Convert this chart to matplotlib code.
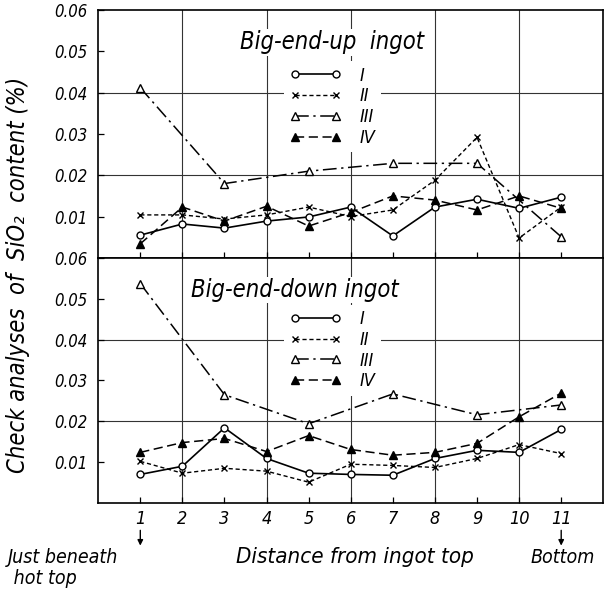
import matplotlib
matplotlib.use("Agg")
import matplotlib.pyplot as plt

# positions along ingot (distance from top)
pos = [1, 2, 3, 4, 5, 6, 7, 8, 9, 10, 11]
pos_odd = [1, 3, 5, 7, 9, 11]

# Big-end-up ingot, SiO2 (%)
up_I = [0.0055, 0.0082, 0.0072, 0.0089, 0.0099, 0.0123, 0.0053, 0.0123, 0.0142, 0.0120, 0.0147]
up_II = [0.0104, 0.0104, 0.0094, 0.0104, 0.0123, 0.0100, 0.0116, 0.0188, 0.0292, 0.0048, 0.0123]
up_III = [0.0412, 0.0180, 0.0210, 0.0229, 0.0229, 0.0051]
up_IV = [0.0034, 0.0123, 0.0089, 0.0125, 0.0077, 0.0110, 0.0150, 0.0140, 0.0116, 0.0150, 0.0120]

# Big-end-down ingot, SiO2 (%)
down_I = [0.0070, 0.0090, 0.0184, 0.0109, 0.0073, 0.0070, 0.0068, 0.0109, 0.0129, 0.0124, 0.0180]
down_II = [0.0102, 0.0073, 0.0085, 0.0078, 0.0051, 0.0095, 0.0092, 0.0087, 0.0109, 0.0143, 0.0121]
down_III = [0.0537, 0.0265, 0.0194, 0.0267, 0.0216, 0.0240]
down_IV = [0.0124, 0.0148, 0.0158, 0.0126, 0.0165, 0.0131, 0.0117, 0.0124, 0.0146, 0.0211, 0.0269]

series_labels = ["I", "II", "III", "IV"]
ytick_vals = [0.01, 0.02, 0.03, 0.04, 0.05, 0.06]
ytick_text = ["0.01", "0.02", "0.03", "0.04", "0.05", "0.06"]

plt.rcParams["font.family"] = ["DejaVu Sans"]
plt.rcParams["font.style"] = "italic"
plt.rcParams["font.stretch"] = "condensed"

fig = plt.figure(figsize=(6.1, 6.01), dpi=100)
ax_up = fig.add_axes([0.161, 0.571, 0.828, 0.412])
ax_dn = fig.add_axes([0.161, 0.163, 0.828, 0.408])

def draw_panel(ax, s1, s2, s3, s4, title, tpos, lpos):
    ax.plot(pos, s1, color="black", lw=1.2, marker="o", ms=5, mfc="white", mew=1.0,
            label=series_labels[0], zorder=4)
    ax.plot(pos, s2, color="black", lw=1.0, ls=(0, (3, 2)), marker="x", ms=5, mew=1.0,
            label=series_labels[1], zorder=4)
    ax.plot(pos_odd, s3, color="black", lw=1.1, ls=(0, (9, 3, 1.5, 3)), marker="^", ms=6,
            mfc="white", mew=1.0, label=series_labels[2], zorder=4)
    ax.plot(pos, s4, color="black", lw=1.1, ls=(0, (6, 3)), marker="^", ms=6,
            mfc="black", label=series_labels[3], zorder=4)

    # grid
    for gx in [2, 4, 6, 8, 10]:
        ax.axvline(gx, color="#333333", lw=0.8, zorder=1)
    for gy in [0.02, 0.04]:
        ax.axhline(gy, color="#333333", lw=0.8, zorder=1)

    ax.set_xlim(0, 12)
    ax.set_ylim(0, 0.06)
    ax.set_yticks(ytick_vals)
    ax.set_yticklabels(ytick_text, fontsize=12)
    ax.set_xticks(pos)
    ax.tick_params(axis="both", direction="in", length=4, width=0.9)
    ax.tick_params(axis="y", pad=8)
    for sp in ax.spines.values():
        sp.set_linewidth(1.2)

    ax.text(tpos[0], tpos[1], title, transform=ax.transAxes, ha="center", va="center",
            fontsize=17, zorder=6,
            bbox=dict(facecolor="white", edgecolor="none", pad=1))
    leg = ax.legend(loc="upper left", bbox_to_anchor=lpos, frameon=True, fontsize=13,
                    handlelength=2.9, handletextpad=1.0, labelspacing=0.15,
                    borderpad=0.3, numpoints=2, fancybox=False)
    leg.get_frame().set_facecolor("white")
    leg.get_frame().set_edgecolor("none")
    leg.get_frame().set_alpha(1)
    leg.set_zorder(5)

draw_panel(ax_up, up_I, up_II, up_III, up_IV, "Big-end-up  ingot", (0.463, 0.871), (0.35, 0.83))
draw_panel(ax_dn, down_I, down_II, down_III, down_IV, "Big-end-down ingot", (0.39, 0.869), (0.35, 0.845))

ax_up.tick_params(axis="x", labelbottom=False)
ax_dn.set_xticklabels([str(p) for p in pos], fontsize=13)
ax_dn.tick_params(axis="x", pad=5)

# arrows below first and last positions
for p in [pos[0], pos[-1]]:
    ax_dn.annotate("", xy=(p, -0.185), xytext=(p, -0.10),
                   xycoords=("data", "axes fraction"), textcoords=("data", "axes fraction"),
                   arrowprops=dict(arrowstyle="-|>", color="black", lw=1.0, mutation_scale=8))

fig.text(0.013, 0.088, "Just beneath\n hot top", ha="left", va="top", fontsize=14,
         linespacing=1.15)
fig.text(0.582, 0.073, "Distance from ingot top", ha="center", va="center", fontsize=16)
fig.text(0.923, 0.073, "Bottom", ha="center", va="center", fontsize=14)
fig.text(0.03, 0.542, "Check analyses  of  SiO\u2082  content (%)", rotation=90,
         ha="center", va="center", fontsize=17)

fig.savefig("out.png", dpi=100)
